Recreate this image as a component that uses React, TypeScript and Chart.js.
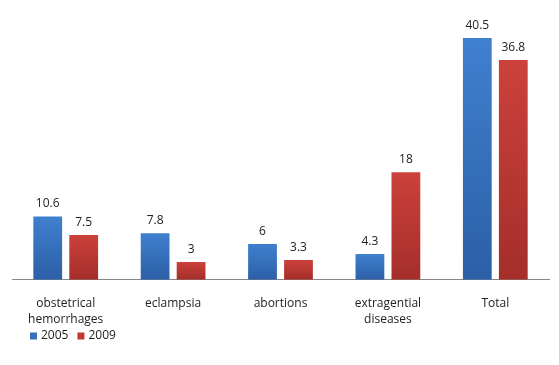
import React, { useEffect, useRef } from "react";
import { Chart, registerables } from "chart.js";

Chart.register(...registerables);

const categories: (string | string[])[] = [
  ["obstetrical", "hemorrhages"],
  "eclampsia",
  "abortions",
  ["extragential", "diseases"],
  "Total",
];
const series2005 = [10.6, 7.8, 6, 4.3, 40.5];
const series2009 = [7.5, 3, 3.3, 18, 36.8];
const seriesLabels = ["2005", "2009"];
const legendColors = ["#3670BD", "#BE3A35"];

const FONT = "'Open Sans', 'Liberation Sans', sans-serif";

function makeGradient(top: string, bottom: string) {
  return (ctx: any) => {
    const chart = ctx.chart;
    const area = chart.chartArea;
    if (!area || ctx.type !== "data") return top;
    const y = chart.scales.y;
    const v = ctx.parsed ? ctx.parsed.y : 0;
    const y0 = y.getPixelForValue(0);
    const y1 = y.getPixelForValue(v);
    if (!isFinite(y0) || !isFinite(y1) || y0 === y1) return top;
    const g = chart.ctx.createLinearGradient(0, y1, 0, y0);
    g.addColorStop(0, top);
    g.addColorStop(1, bottom);
    return g;
  };
}

const valueLabels = {
  id: "valueLabels",
  afterDatasetsDraw(chart: any) {
    const { ctx } = chart;
    ctx.save();
    ctx.font = `12px ${FONT}`;
    ctx.fillStyle = "#222";
    ctx.textAlign = "center";
    ctx.textBaseline = "middle";
    chart.data.datasets.forEach((ds: any, i: number) => {
      const meta = chart.getDatasetMeta(i);
      meta.data.forEach((el: any, j: number) => {
        ctx.fillText(String(ds.data[j]), el.x, el.y - 12.5);
      });
    });
    ctx.restore();
  },
};

const bottomLegend = {
  id: "bottomLegend",
  afterDraw(chart: any) {
    const { ctx } = chart;
    ctx.save();
    ctx.font = `12px ${FONT}`;
    ctx.textBaseline = "middle";
    ctx.textAlign = "left";
    let x = 30;
    const cy = 336;
    seriesLabels.forEach((lab, i) => {
      ctx.fillStyle = legendColors[i];
      ctx.fillRect(x, cy - 3.5, 7, 7);
      ctx.fillStyle = "#222";
      ctx.fillText(lab, x + 11, cy);
      x += 11 + ctx.measureText(lab).width + 9;
    });
    ctx.restore();
  },
};

export default function App() {
  const ref = useRef<HTMLCanvasElement>(null);
  useEffect(() => {
    if (!ref.current) return;
    const chart = new Chart(ref.current, {
      type: "bar",
      data: {
        labels: categories as any,
        datasets: [
          {
            label: seriesLabels[0],
            data: series2005,
            backgroundColor: makeGradient("#3F80CF", "#2C5FA6"),
            borderWidth: 0,
          },
          {
            label: seriesLabels[1],
            data: series2009,
            backgroundColor: makeGradient("#CC413B", "#A42E2A"),
            borderWidth: 0,
          },
        ],
      },
      options: {
        animation: false,
        responsive: false,
        maintainAspectRatio: false,
        layout: { padding: { left: 12, right: 10, top: 11, bottom: 22 } },
        datasets: {
          bar: { categoryPercentage: 0.67, barPercentage: 0.8 },
        } as any,
        scales: {
          x: {
            grid: { display: false, drawTicks: false },
            border: { display: true, color: "#888", width: 1 },
            ticks: {
              color: "#222",
              font: { family: FONT, size: 12, lineHeight: 1.3 },
              padding: 16,
              maxRotation: 0,
              autoSkip: false,
            },
          },
          y: {
            min: 0,
            max: 45,
            display: false,
          },
        },
        plugins: {
          legend: { display: false },
          tooltip: { enabled: false },
        },
      },
      plugins: [valueLabels, bottomLegend],
    });
    return () => chart.destroy();
  }, []);
  return (
    <div style={{ position: "fixed", left: 0, top: 0, width: 559, height: 365, background: "#fff" }}>
      <canvas ref={ref} width={559} height={365} />
    </div>
  );
}
